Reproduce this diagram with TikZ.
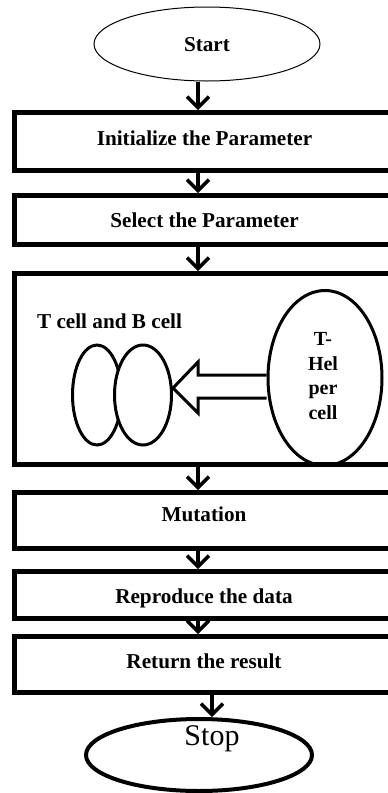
\documentclass[tikz,border=0pt]{standalone}
\usepackage{fontspec}
\setmainfont{Liberation Serif}
\usetikzlibrary{shapes.geometric,arrows.meta}
\begin{document}
\begin{tikzpicture}[x=1pt,y=-1pt,
  stepbox/.style={draw, rectangle, line width=5pt, minimum width=381pt, inner sep=0pt},
  steptext/.style={anchor=base, inner sep=0pt, font=\fontsize{21.2}{25}\selectfont\bfseries},
  cell/.style={draw, ellipse, line width=3pt, inner sep=0pt},
  flow/.style={line width=3.5pt, -{Straight Barb[length=11pt,width=22pt]}}
]
\useasboundingbox (0,0) rectangle (388,793);
\clip (0,0) rectangle (388,793);

% terminal shapes
\node[draw, ellipse, line width=1pt, minimum width=226pt, minimum height=74pt, inner sep=0pt] (start) at (207,44) {};
\node[steptext] (starttext) at (207,51) {Start};

% process boxes
\node[stepbox, minimum height=58pt] (b1) at (204.5,141.5) {};
\node[stepbox, minimum height=49pt] (b2) at (204.5,220) {};
\node[stepbox, minimum height=191pt] (b3) at (204.5,369) {};
\node[stepbox, minimum height=56pt] (b4) at (204.5,520.5) {};
\node[stepbox, minimum height=47pt] (b5) at (204.5,595) {};
\node[stepbox, minimum height=56pt] (b6) at (204.5,664.5) {};

\node[steptext] (t1) at (204.5,145) {Initialize the Parameter};
\node[steptext] (t2) at (204.5,227) {Select the Parameter};
\node[steptext] (t4) at (204,521) {Mutation};
\node[steptext] (t5) at (204,603) {Reproduce the data};
\node[steptext] (t6) at (204,668) {Return the result};

% cells inside the immune step
\node[steptext] (tb) at (109.5,328) {T cell and B cell};
\node[cell, minimum width=49pt, minimum height=100pt] (c1) at (97,395) {};
\node[cell, fill=white, minimum width=57pt, minimum height=100pt] (c2) at (143,395) {};
\node[cell, minimum width=114pt, minimum height=175pt] (th) at (325,378) {};
\node[align=center, inner sep=0pt, font=\fontsize{20}{24.5}\selectfont\bfseries] (thtext) at (323,376) {T-\\Hel\\per\\cell};

% hollow block arrow from the helper cell to the cell pair
\coordinate (tip) at (173,388);
\draw[line width=3pt, line join=miter] (th.west |- 0,375) -- (198,375) -- (198,362) -- (tip) -- (198,413) -- (198,398) -- (th.west |- 0,398);

% stop terminal
\node[draw, ellipse, line width=4pt, minimum width=226pt, minimum height=72pt, inner sep=0pt] (stop) at (199,755) {};
\node[anchor=base, inner sep=0pt, font=\fontsize{30}{36}\selectfont] (stoptext) at (212,745) {Stop};

% flow connectors
\coordinate (axis) at (198,0);
\coordinate (axisb) at (212,0);
\draw[flow] (start.south -| axis) -- (b1.north -| axis);
\draw[flow] (b1.south -| axis) -- (b2.north -| axis);
\draw[flow] (b2.south -| axis) -- (b3.north -| axis);
\draw[flow] (b3.south -| axis) -- (b4.north -| axis);
\draw[flow] (b4.south -| axis) -- (b5.north -| axis);
\draw[flow] (b5.south -| axis) -- (b6.north -| axis);
\draw[flow] (b6.south -| axisb) -- (stop.north -| axisb);
\end{tikzpicture}
\end{document}
